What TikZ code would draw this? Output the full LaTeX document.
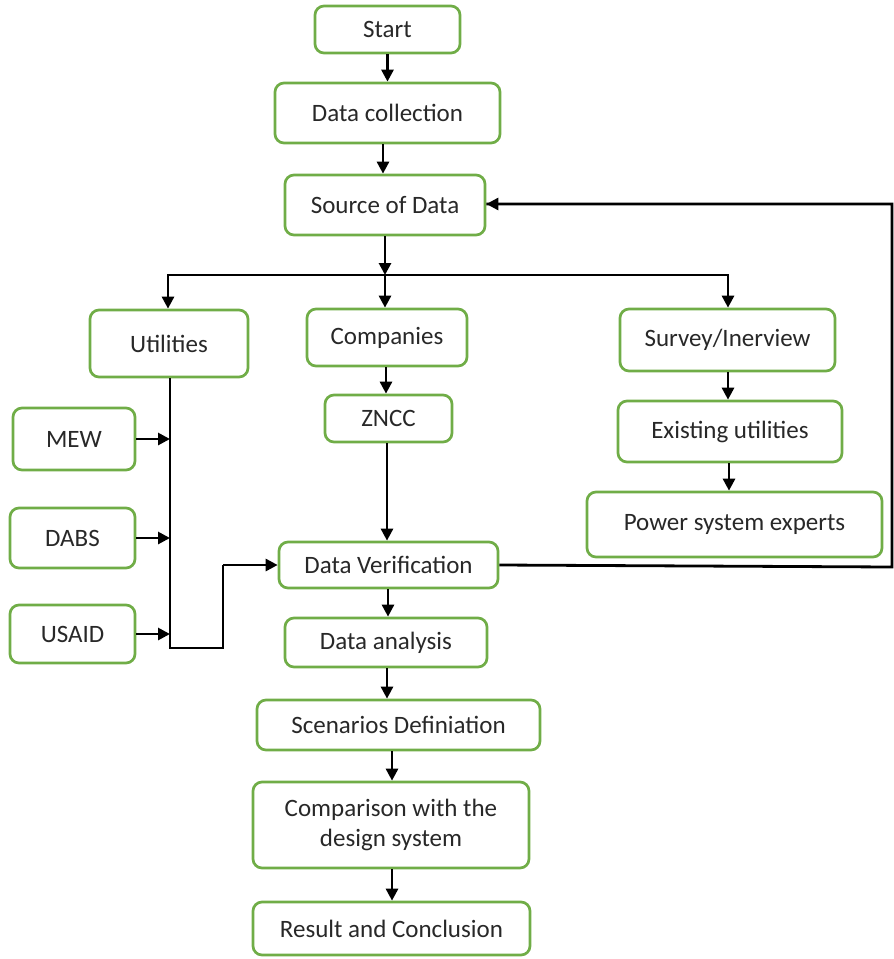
\documentclass[tikz,border=0pt]{standalone}
\usepackage{fontspec}
\setmainfont{Carlito}
\usetikzlibrary{arrows.meta,calc}
\definecolor{boxgreen}{RGB}{112,173,71}
\definecolor{txt}{RGB}{40,40,40}
\tikzset{
  box/.style={draw=boxgreen, line width=2.7pt, rounded corners=9pt, fill=white,
    text=txt, align=center, inner sep=0pt, font=\fontsize{25}{30}\selectfont},
  arr/.style={line width=2.8pt, -{Triangle[length=12pt,width=12pt]}},
  ln/.style={line width=2.8pt},
}
\begin{document}
\begin{tikzpicture}[x=1pt,y=-1pt]
\useasboundingbox (0,0) rectangle (894,959);
\node[box, minimum width=145pt, minimum height=47pt] (start) at (387.5,29.5) {Start};
\node[box, minimum width=225pt, minimum height=60pt] (collect) at (387.5,113) {Data collection};
\node[box, minimum width=200pt, minimum height=60pt] (source) at (385,205) {Source of Data};
\node[box, minimum width=158pt, minimum height=67pt] (util) at (169,343.5) {Utilities};
\node[box, minimum width=160pt, minimum height=57pt] (comp) at (387,337.5) {Companies};
\node[box, minimum width=215pt, minimum height=62pt] (survey) at (727.5,340) {Survey/Inerview};
\node[box, minimum width=122pt, minimum height=62pt] (mew) at (74,439) {MEW};
\node[box, minimum width=125pt, minimum height=60pt] (dabs) at (72.5,538) {DABS};
\node[box, minimum width=125pt, minimum height=58pt] (usaid) at (72.5,634) {USAID};
\node[box, minimum width=127pt, minimum height=47pt] (zncc) at (388.5,418.5) {ZNCC};
\node[box, minimum width=224pt, minimum height=61pt] (exist) at (730,431.5) {Existing utilities};
\node[box, minimum width=295pt, minimum height=65pt] (power) at (734.5,524.5) {Power system experts};
\node[box, minimum width=219pt, minimum height=46pt] (verif) at (388.5,565) {Data Verification};
\node[box, minimum width=202pt, minimum height=49pt] (analysis) at (386,642.5) {Data analysis};
\node[box, minimum width=283pt, minimum height=50pt] (scen) at (398.5,725) {Scenarios Definiation};
\node[box, minimum width=276pt, minimum height=86pt] (design) at (391,825) {Comparison with the\\design system};
\node[box, minimum width=277pt, minimum height=53pt] (result) at (391.5,928.5) {Result and Conclusion};
% coordinates
\coordinate (branch) at (385,275);
\coordinate (bl) at (168,275);
\coordinate (br) at (728,275);
\coordinate (busbot) at (170,648);
\coordinate (jog) at (223,648);
\coordinate (fbr) at (892,567);
\coordinate (fbt) at (892,204);
% main flow
\draw[arr] (start.south) -- (collect.north);
\draw[arr] (collect.south -| 383,0) -- (source.north -| 383,0);
\draw[arr] (source.south) -- (branch);
\draw[ln, line cap=rect] (bl) -- (br);
\draw[arr] (bl) -- (util.north -| bl);
\draw[arr] (branch) -- (comp.north -| branch);
\draw[arr] (br) -- (survey.north -| br);
\draw[arr] (comp.south -| 386,0) -- (zncc.north -| 386,0);
\draw[arr] (zncc.south -| 387,0) -- (verif.north -| 387,0);
\draw[arr] (survey.south -| 728,0) -- (exist.north -| 728,0);
\draw[arr] (exist.south -| 729,0) -- (power.north -| 729,0);
\draw[arr] (verif.south -| 388,0) -- (analysis.north -| 388,0);
\draw[arr] (analysis.south -| 387,0) -- (scen.north -| 387,0);
\draw[arr] (scen.south -| 392,0) -- (design.north -| 392,0);
\draw[arr] (design.south -| 392,0) -- (result.north -| 392,0);
% utilities bus
\draw[ln, line join=miter] (util.south -| busbot) -- (busbot) -- (jog) -- (jog |- verif.west);
\draw[arr] (jog |- verif.west) -- (verif.west);
\draw[arr] (mew.east) -- (mew.east -| busbot);
\draw[arr] (dabs.east) -- (dabs.east -| busbot);
\draw[arr] (usaid.east) -- (usaid.east -| busbot);
% feedback
\draw[ln, line join=miter] (verif.east) -- (fbr) -- (fbt) -- (fbt -| source.east);
\draw[arr] (fbt -| 520,0) -- (source.east |- fbt);
\end{tikzpicture}
\end{document}
